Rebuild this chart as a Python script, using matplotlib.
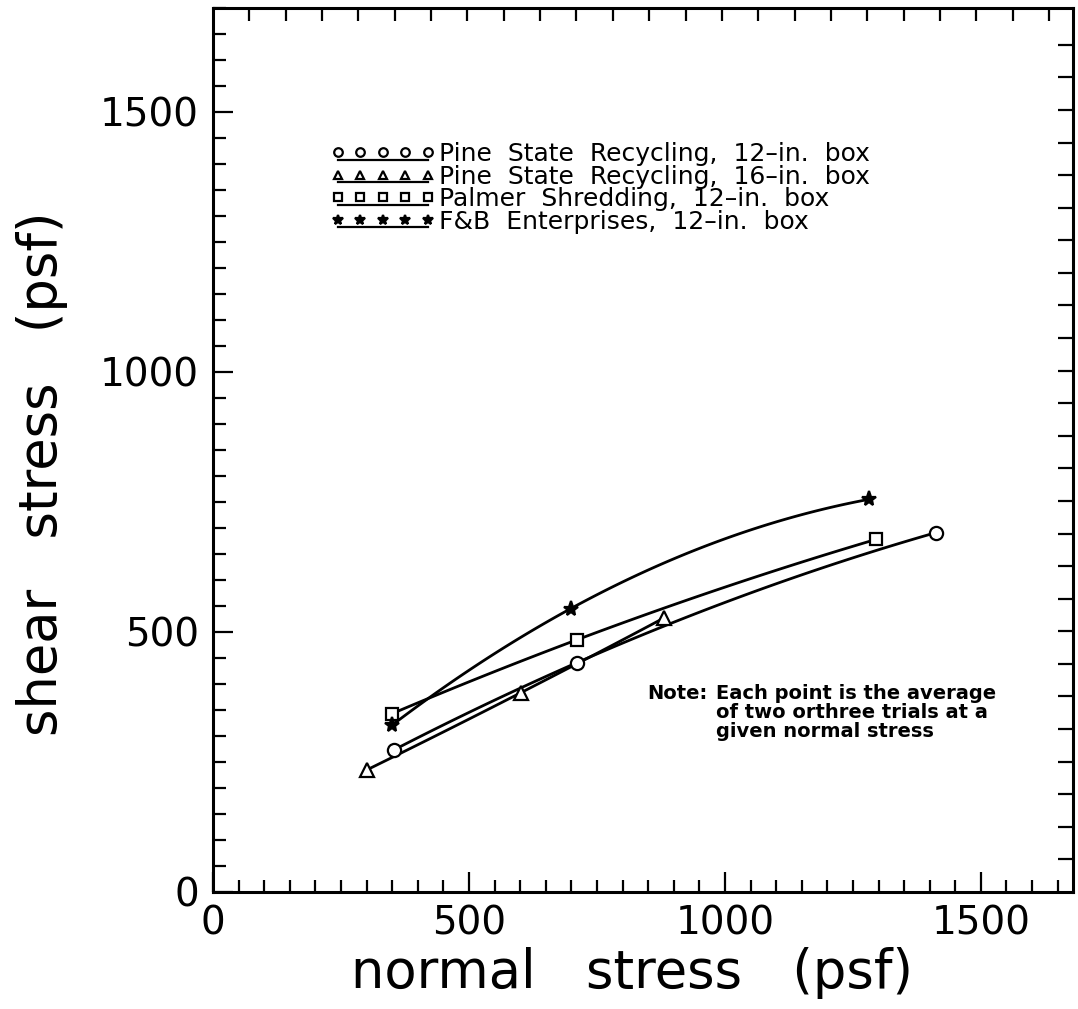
import numpy as np
import matplotlib
matplotlib.use('Agg')
from matplotlib import pyplot as plt
from matplotlib.lines import Line2D
from matplotlib.legend_handler import HandlerLine2D
from matplotlib.ticker import MultipleLocator

# values (psf)
pine12_x = [353, 711, 1412]
pine12_y = [273, 441, 691]
pine16_x = [301, 601, 881]
pine16_y = [235, 383, 527]
palmer_x = [350, 711, 1295]
palmer_y = [343, 485, 678]
fb_x = [350, 699, 1281]
fb_y = [321, 545, 755]

labels = ['Pine  State  Recycling,  12–in.  box',
          'Pine  State  Recycling,  16–in.  box',
          'Palmer  Shredding,  12–in.  box',
          'F&B  Enterprises,  12–in.  box']
markers = ['o', '^', 's', '*']

major_ticks = [0, 500, 1000, 1500]
top_step = 71       # spacing of the plain ticks on the top edge
right_step = 62.66  # spacing of the plain ticks on the right edge (3 kPa)

note = 'Each point is the average\nof two orthree trials at a\ngiven normal stress'


class UnderlineHandler(HandlerLine2D):
    # legend key: a row of markers with a line underneath
    def create_artists(self, legend, orig_handle, xdescent, ydescent,
                       width, height, fontsize, trans):
        arts = super().create_artists(legend, orig_handle, xdescent, ydescent,
                                      width, height, fontsize, trans)
        marks = arts[-1]
        xs = marks.get_xdata()
        ys = np.asarray(marks.get_ydata(), dtype=float) - 0.42 * height
        under = Line2D(xs, ys, color='black', lw=1.6)
        under.set_transform(trans)
        marks.set_linestyle('none')
        return [under] + list(arts)


def smooth_fit(x, y):
    # second-order curve through the points, drawn from first to last
    c = np.polyfit(x, y, 2)
    xs = np.linspace(min(x), max(x), 100)
    return xs, np.polyval(c, xs)


fig = plt.figure(figsize=(10.78, 10.09), dpi=100)
ax = fig.add_axes([0.1976, 0.1160, 0.7978, 0.8761])

series = [(pine12_x, pine12_y), (pine16_x, pine16_y),
          (palmer_x, palmer_y), (fb_x, fb_y)]
sizes = [9.5, 9.5, 8.5, 11]
handles = []
for (x, y), m, ms in zip(series, markers, sizes):
    xs, ys = smooth_fit(x, y)
    ax.plot(xs, ys, color='black', lw=2.0, zorder=2)
    face = 'black' if m == '*' else 'white'
    h, = ax.plot(x, y, linestyle='none', marker=m, ms=ms, mfc=face,
                 mec='black', mew=1.6, zorder=3)
    handles.append(h)

ax.set_xlim(0, 1680)
ax.set_ylim(0, 1700)
ax.set_xticks(major_ticks)
ax.set_yticks(major_ticks)
ax.xaxis.set_minor_locator(MultipleLocator(50))
ax.yaxis.set_minor_locator(MultipleLocator(50))
ax.tick_params(which='major', direction='in', length=14.5, width=1.6,
               labelsize=28, pad=9)
ax.tick_params(axis='y', which='major', pad=10)
ax.tick_params(which='minor', direction='in', length=9, width=1.6)
for s in ax.spines.values():
    s.set_linewidth(2.2)

# plain ticks on the top and right edges
top = ax.secondary_xaxis('top')
top.set_xticks(np.arange(1, 24) * top_step)
top.set_xticklabels([])
top.tick_params(direction='in', length=9.5, width=1.6)
right = ax.secondary_yaxis('right')
right.set_yticks(np.arange(1, 27) * right_step)
right.set_yticklabels([])
right.tick_params(direction='in', length=10.5, width=1.6)

ax.set_xlabel('normal   stress   (psf)', fontsize=38, va='center')
ax.xaxis.set_label_coords(0.487, -0.0916)
ax.set_ylabel('shear   stress   (psf)', fontsize=38, va='center')
ax.yaxis.set_label_coords(-0.199, 0.473)

ax.legend(handles, labels, handler_map={Line2D: UnderlineHandler()},
          numpoints=5, markerscale=0.65, fontsize=18, frameon=False,
          loc='upper left', bbox_to_anchor=(330 / 1078, 1 - 142 / 1009),
          bbox_transform=fig.transFigure, borderpad=0, borderaxespad=0,
          handlelength=4.2, handletextpad=0.15, labelspacing=-0.06)

fig.text(647 / 1078, 1 - 684 / 1009, 'Note:', fontsize=14,
         fontweight='bold', va='top', ha='left')
fig.text(716 / 1078, 1 - 684 / 1009, note, fontsize=14, fontweight='bold',
         va='top', ha='left', linespacing=1.0)

fig.savefig('out.png', dpi=100, facecolor='white')
